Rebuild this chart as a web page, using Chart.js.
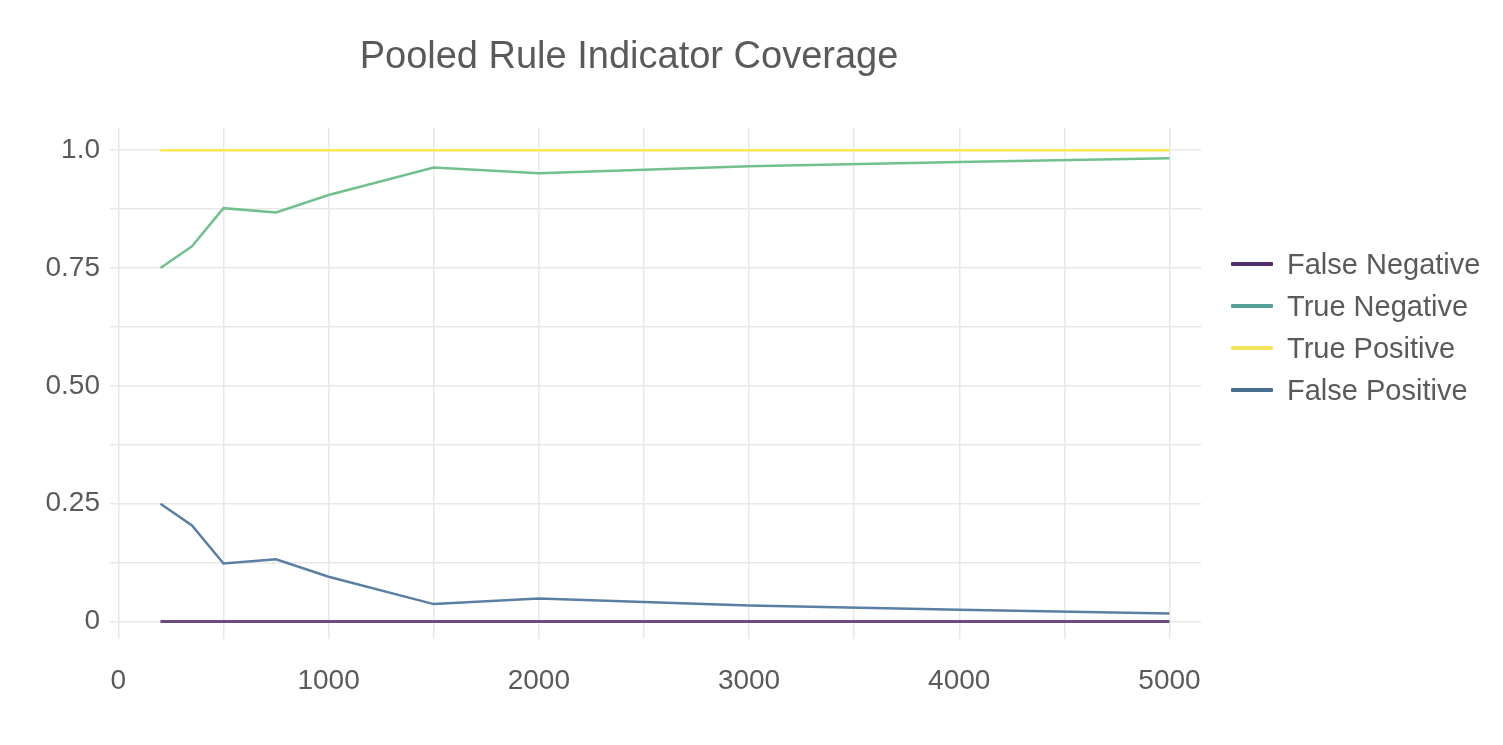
<!DOCTYPE html>
<html lang="en">
<head>
<meta charset="UTF-8">
<title>Pooled Rule Indicator Coverage</title>
<script src="https://cdn.jsdelivr.net/npm/chart.js"></script>
<style>
    html, body { margin: 0; padding: 0; background: #fff; }
    .wrap { position: relative; width: 1503px; height: 745px; }
    .titulo { position: absolute; left: 0; top: 32px; width: 1258px; text-align: center; font-family: "Liberation Sans", Arial, sans-serif; font-size: 38px; line-height: 46px; color: #5a5a5a; }
    .legend { position: absolute; left: 1231px; top: 243px; font-family: "Liberation Sans", Arial, sans-serif; font-size: 29px; color: #5a5a5a; }
    .legend .item { display: flex; align-items: center; height: 42px; }
    .legend .swatch { width: 42px; height: 4px; margin-right: 14px; border-radius: 1px; }
</style>
</head>
<body>
<div class="wrap">
    <canvas id="myChart"></canvas>
    <div class="titulo">Pooled Rule Indicator Coverage</div>
    <div class="legend" id="legend"></div>
</div>

<script>
    // sample sizes on the x axis
    const sizes = [200, 350, 500, 750, 1000, 1500, 2000, 3000, 4000, 5000];

    // coverage per indicator
    const falseNegative = [0, 0, 0, 0, 0, 0, 0, 0, 0, 0];
    const trueNegative  = [0.75, 0.796, 0.877, 0.868, 0.905, 0.963, 0.951, 0.966, 0.975, 0.983];
    const truePositive  = [1, 1, 1, 1, 1, 1, 1, 1, 1, 1];
    const falsePositive = [0.25, 0.204, 0.123, 0.132, 0.095, 0.037, 0.049, 0.034, 0.025, 0.017];

    const seriesNames = ['False Negative', 'True Negative', 'True Positive', 'False Positive'];
    const lineColors = ['#6a4b84', '#72c08e', '#fde74c', '#5b7fa3'];
    const legendColors = ['#4e2e6d', '#55a096', '#f7e45e', '#4b6e93'];

    const xTicks = [0, 500, 1000, 1500, 2000, 2500, 3000, 3500, 4000, 4500, 5000];
    const yTicks = [0, 0.125, 0.25, 0.375, 0.5, 0.625, 0.75, 0.875, 1];
    const yTickLabels = { 0: '0', 0.25: '0.25', 0.5: '0.50', 0.75: '0.75', 1: '1.0' };

    const seriesValues = [falseNegative, trueNegative, truePositive, falsePositive];
    const widths = [3, 2.5, 2.5, 2.5];

    const datasets = seriesNames.map((nome, i) => ({
        label: nome,
        data: sizes.map((x, j) => ({ x: x, y: seriesValues[i][j] })),
        borderColor: lineColors[i],
        backgroundColor: lineColors[i],
        borderWidth: widths[i],
        pointRadius: 0,
        tension: 0,
        fill: false
    }));

    // html legend
    const legend = document.getElementById('legend');
    seriesNames.forEach((nome, i) => {
        const item = document.createElement('div');
        item.className = 'item';
        item.innerHTML = `<span class="swatch" style="background:${legendColors[i]}"></span><span>${nome}</span>`;
        legend.appendChild(item);
    });

    const fonte = "'Liberation Sans', Arial, sans-serif";
    const cinza = '#5a5a5a';

    new Chart(document.getElementById('myChart'), {
        type: 'line',
        data: { datasets: datasets },
        options: {
            responsive: true,
            maintainAspectRatio: false,
            animation: false,
            layout: { padding: { left: 0, right: 302, top: 128, bottom: 0 } },
            plugins: {
                legend: { display: false },
                tooltip: { enabled: false },
                title: { display: false }
            },
            scales: {
                x: {
                    type: 'linear',
                    min: -40,
                    max: 5150,
                    afterBuildTicks: (scale) => { scale.ticks = xTicks.map(v => ({ value: v })); },
                    afterFit: (scale) => { scale.height = 106; },
                    ticks: {
                        color: cinza,
                        font: { family: fonte, size: 28 },
                        padding: 25,
                        maxRotation: 0,
                        autoSkip: false,
                        callback: (v) => (v % 1000 === 0 ? String(v) : '')
                    },
                    grid: { color: '#e8e8e8', lineWidth: 1.5, drawTicks: false },
                    border: { display: false }
                },
                y: {
                    min: -0.037,
                    max: 1.047,
                    afterBuildTicks: (scale) => { scale.ticks = yTicks.map(v => ({ value: v })); },
                    afterFit: (scale) => { scale.width = 110; },
                    ticks: {
                        color: cinza,
                        font: { family: fonte, size: 28 },
                        padding: 10,
                        autoSkip: false,
                        callback: (v) => (yTickLabels[v] !== undefined ? yTickLabels[v] : '')
                    },
                    grid: { color: '#e8e8e8', lineWidth: 1.5, drawTicks: false },
                    border: { display: false }
                }
            }
        }
    });
</script>
</body>
</html>
